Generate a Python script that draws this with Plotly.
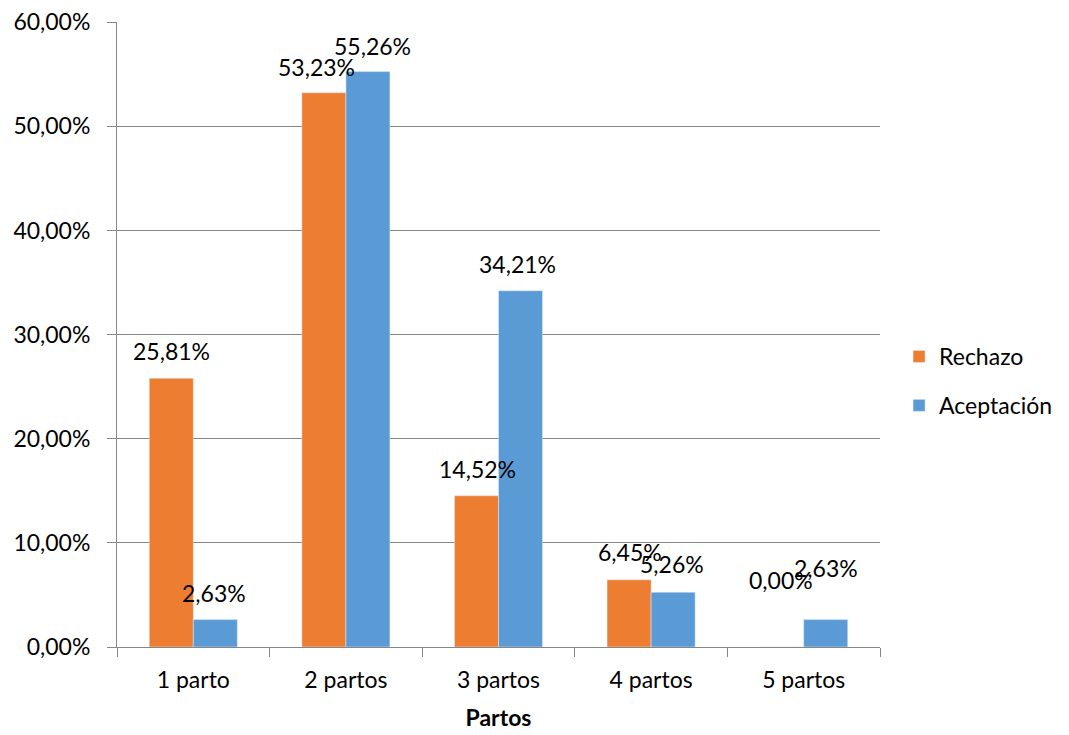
import plotly.graph_objects as go

categories = ["1 parto", "2 partos", "3 partos", "4 partos", "5 partos"]
rechazo = [25.81, 53.23, 14.52, 6.45, 0.00]
aceptacion = [2.63, 55.26, 34.21, 5.26, 2.63]
y_ticks = [0, 10, 20, 30, 40, 50, 60]

FONT = "Lato"
FS = 23
ORANGE = "#ED7D31"
BLUE = "#5B9BD5"

def fmt(v):
    return f"{v:.2f}".replace(".", ",") + "%"

fig = go.Figure()
fig.add_trace(go.Bar(name="Rechazo", x=categories, y=rechazo, marker_color=ORANGE,
                     legendgroup="a", offsetgroup="a"))
fig.add_trace(go.Bar(name="Aceptación", x=categories, y=aceptacion, marker_color=BLUE,
                     legendgroup="b", offsetgroup="b"))

# label nudges (pixels): (xshift, yshift)
nudge_r = [(0, 27), (-7, 26), (1, 27), (1, 28), (-1, 67)]
nudge_a = [(-1, 27), (5, 26), (-3, 27), (-1, 28), (0, 52)]
bar_off = 0.144  # half-bar offset in category units

for i, c in enumerate(categories):
    for vals, nud, sign in ((rechazo, nudge_r, -1), (aceptacion, nudge_a, 1)):
        fig.add_annotation(x=i + sign * bar_off, y=vals[i], xref="x", yref="y",
                           text=fmt(vals[i]), showarrow=False,
                           xshift=nud[i][0], yshift=nud[i][1],
                           font=dict(family=FONT, size=FS, color="#000000"))

fig.update_layout(
    width=1061, height=727,
    margin=dict(l=109, r=189, t=14, b=88, autoexpand=False),
    paper_bgcolor="white", plot_bgcolor="white",
    barmode="group", bargap=0.423, bargroupgap=0,
    font=dict(family=FONT, size=FS, color="#000000"),
    showlegend=True,
    legend=dict(x=1.025, y=0.4256, xanchor="left", yanchor="middle",
                traceorder="grouped", tracegroupgap=16,
                font=dict(family=FONT, size=FS), itemwidth=30),
    xaxis=dict(
        type="category", range=[-0.5, 4.5], automargin=False,
        showline=True, linecolor="#868686", linewidth=1,
        ticks="outside", ticklen=9, tickcolor="#868686", tickson="boundaries",
        showgrid=False, ticklabelstandoff=12, ticklabeloverflow="allow",
        title=dict(text="<b>Partos</b>", font=dict(family=FONT, size=FS), standoff=18),
        tickfont=dict(family=FONT, size=FS),
    ),
    yaxis=dict(
        range=[0, 60.02], tickvals=y_ticks, ticktext=[fmt(v) for v in y_ticks],
        automargin=False, ticklabelstandoff=12, ticklabeloverflow="allow",
        showline=True, linecolor="#868686", linewidth=1,
        ticks="outside", ticklen=9, tickcolor="#868686",
        showgrid=True, gridcolor="#868686", gridwidth=1,
        zeroline=False,
        tickfont=dict(family=FONT, size=FS),
    ),
)
fig.update_xaxes(categoryorder="array", categoryarray=categories)

fig.write_html("out.html")
